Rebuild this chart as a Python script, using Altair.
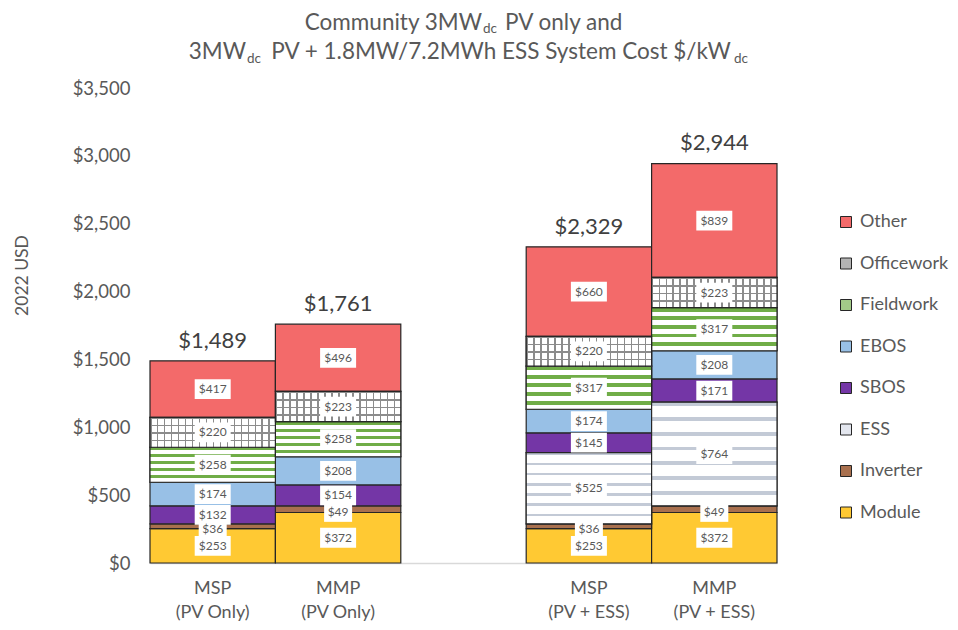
import altair as alt
import pandas as pd

# ---------------- data ----------------
bars = ["MSP\n(PV Only)", "MMP\n(PV Only)", "MSP\n(PV + ESS)", "MMP\n(PV + ESS)"]
components = ["Module", "Inverter", "ESS", "SBOS", "EBOS", "Fieldwork", "Officework", "Other"]
module = [253, 372, 253, 372]
inverter = [36, 49, 36, 49]
ess = [0, 0, 525, 764]
sbos = [132, 154, 145, 171]
ebos = [174, 208, 174, 208]
fieldwork = [258, 258, 317, 317]
officework = [220, 223, 220, 223]
other = [417, 496, 660, 839]
totals = [1489, 1761, 2329, 2944]
y_ticks = [0, 500, 1000, 1500, 2000, 2500, 3000, 3500]

series = [module, inverter, ess, sbos, ebos, fieldwork, officework, other]
rows = []
for ci, (comp, vals) in enumerate(zip(components, series)):
    for b, v in zip(bars, vals):
        rows.append({"bar": b, "component": comp, "value": v, "order": ci})
df = pd.DataFrame(rows)
df_tot = pd.DataFrame({"bar": bars, "total": totals})

legend_order = list(reversed(components))
legend_colors = ["#F36A6A", "#B4B4B4", "#A3CB88", "#98C0E6", "#7436A6", "#E3E6EE", "#A9704E", "#FFC933"]

x_domain = [bars[0], bars[1], " ", bars[2], bars[3]]
xscale = alt.Scale(domain=x_domain, paddingInner=0, paddingOuter=0)
yscale = alt.Scale(domain=[0, 3500], nice=False)

GRAY = "#595959"
FONT = "Lato"
EDGE = "#262626"

xaxis = alt.Axis(
    labelExpr="split(datum.label, '\\n')",
    labelFontSize=18, labelColor=GRAY, labelLineHeight=24,
    labelPadding=16, ticks=False, domainColor="#D9D9D9", domainWidth=1.5,
    labelAngle=0, title=None, grid=False,
)
yaxis = alt.Axis(
    values=y_ticks, format="$,.0f", labelFontSize=18.5, labelColor=GRAY,
    labelPadding=20, ticks=False, tickSize=0, domain=False, grid=False,
    title="2022 USD", titleFontSize=17.5, titleColor=GRAY, titleFontWeight="normal",
    titleAngle=270, titleX=-128, titleY=187, titleAlign="center", titleBaseline="middle",
)

base = (
    alt.Chart(df)
    .transform_filter("datum.value > 0")
    .transform_stack(stack="value", groupby=["bar"], as_=["y0", "y1"],
                     sort=[alt.SortField("order", order="ascending")])
    .transform_calculate(mid="(datum.y0 + datum.y1) / 2", label="'$' + datum.value")
)

bars_layer = base.mark_bar(stroke=EDGE, strokeWidth=1.2).encode(
    x=alt.X("bar:N", scale=xscale, axis=xaxis),
    y=alt.Y("y0:Q", scale=yscale, axis=yaxis),
    y2="y1:Q",
    color=alt.Color(
        "component:N",
        scale=alt.Scale(domain=legend_order, range=legend_colors),
        legend=alt.Legend(
            title=None, orient="none", legendX=687, legendY=125,
            labelFontSize=18, labelColor=GRAY, labelFont=FONT, labelOffset=5,
            symbolType="square", symbolSize=121, symbolStrokeColor=EDGE,
            symbolStrokeWidth=1, rowPadding=23.5, padding=0,
        ),
    ),
)


def stripe_gradient(color, n, frac, vertical, gap="#FFFFFF"):
    stops = []
    for i in range(n):
        a = i / n
        stops += [alt.GradientStop(offset=a, color=color),
                  alt.GradientStop(offset=a + frac / n, color=color),
                  alt.GradientStop(offset=a + frac / n, color=gap),
                  alt.GradientStop(offset=(i + 1) / n, color=gap)]
    if vertical:  # stripes run horizontally, repeating down the bar
        return alt.LinearGradient(gradient="linear", stops=stops, x1=0, x2=0, y1=0, y2=1)
    return alt.LinearGradient(gradient="linear", stops=stops, x1=0, x2=1, y1=0, y2=0)


def textured(comp, fill, stroke=True):
    kw = dict(color=fill)
    if stroke:
        kw.update(stroke=EDGE, strokeWidth=1.2)
    else:
        kw.update(strokeWidth=0)
    return base.transform_filter(f"datum.component == '{comp}'").mark_bar(**kw).encode(
        x=alt.X("bar:N", scale=xscale),
        y=alt.Y("y0:Q", scale=yscale),
        y2="y1:Q",
    )


CLEAR = "rgba(255,255,255,0)"
field_layer = textured("Fieldwork", stripe_gradient("#70AD47", 5, 0.45, True))
office_v = textured("Officework", stripe_gradient("#8C8C8C", 18, 0.22, False), stroke=False)
office_h = textured("Officework", stripe_gradient("#8C8C8C", 4, 0.22, True, CLEAR))
ess_layer = textured("ESS", stripe_gradient("#C3CAD6", 7, 0.25, True))

box_wide = base.transform_filter("datum.value >= 100").mark_point(
    shape="M-1,-0.55H1V0.55H-1Z", size=36 * 36, filled=True, fill="white", opacity=1, strokeWidth=0
).encode(x=alt.X("bar:N", scale=xscale), y=alt.Y("mid:Q", scale=yscale))

box_narrow = base.transform_filter("datum.value < 100").mark_point(
    shape="M-1,-0.69H1V0.69H-1Z", size=28 * 28, filled=True, fill="white", opacity=1, strokeWidth=0,
    yOffset=3,
).encode(x=alt.X("bar:N", scale=xscale), y=alt.Y("mid:Q", scale=yscale))

labels_wide = base.transform_filter("datum.value >= 100").mark_text(
    fontSize=12, color=GRAY, font=FONT
).encode(x=alt.X("bar:N", scale=xscale), y=alt.Y("mid:Q", scale=yscale), text="label:N")

labels_narrow = base.transform_filter("datum.value < 100").mark_text(
    fontSize=12, color=GRAY, font=FONT, dy=3
).encode(x=alt.X("bar:N", scale=xscale), y=alt.Y("mid:Q", scale=yscale), text="label:N")

tot_layer = alt.Chart(df_tot).mark_text(
    fontSize=22, color="#404040", font=FONT, baseline="alphabetic", dy=-13
).encode(
    x=alt.X("bar:N", scale=xscale),
    y=alt.Y("total:Q", scale=yscale),
    text=alt.Text("total:Q", format="$,.0f"),
)

one = pd.DataFrame({"k": [0]})


def piece(txt, x, y, size, align):
    return alt.Chart(one).mark_text(
        text=txt, fontSize=size, color=GRAY, font=FONT, align=align, baseline="alphabetic"
    ).encode(x=alt.value(x), y=alt.value(y))


TS = 22.5
SS = 13.5
title_layers = [
    piece("Community 3MW", 332, -58, TS, "right"),
    piece("dc", 333, -55, SS, "left"),
    piece("PV only and", 355, -58, TS, "left"),
    piece("3MW", 96, -29, TS, "right"),
    piece("dc", 97, -25, SS, "left"),
    piece("PV + 1.8MW/7.2MWh ESS System Cost $/kW", 351, -29, TS, "center"),
    piece("dc", 584, -25, SS, "left"),
]

chart = (
    alt.layer(bars_layer, field_layer, office_v, office_h, ess_layer,
              box_wide, box_narrow, labels_wide, labels_narrow, tot_layer, *title_layers)
    .properties(
        width=627, height=475,
        autosize=alt.AutoSizeParams(type="none"),
        padding={"left": 142, "top": 80, "right": 173, "bottom": 59},
    )
    .configure(font=FONT)
    .configure_view(stroke=None)
)

chart.save("out.html", embed_options={"renderer": "svg", "actions": False})
